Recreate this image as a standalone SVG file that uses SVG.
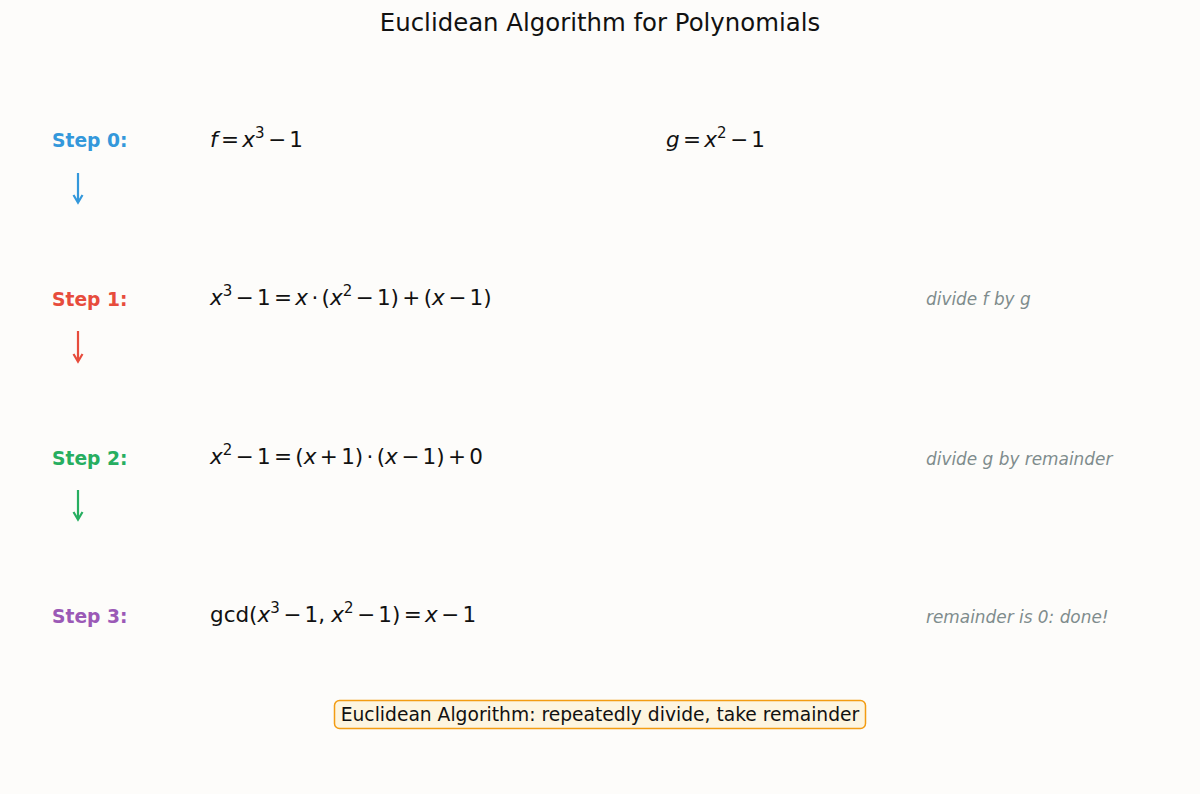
<svg xmlns="http://www.w3.org/2000/svg" width="1200" height="794" viewBox="0 0 1200 794">
<defs>
<style>
.title{font-family:"DejaVu Sans",sans-serif;font-size:24.4px;fill:#111}
.step{font-family:"DejaVu Sans",sans-serif;font-size:18.7px;font-weight:bold}
.math{font-family:"DejaVu Sans",sans-serif;font-size:21.5px;fill:#111;word-spacing:-3.5px;white-space:pre}
.i{font-style:italic}
.sup{font-size:15px}
.note{font-family:"DejaVu Sans",sans-serif;font-size:16.9px;font-style:italic;fill:#7f8c8d}
.foot{font-family:"DejaVu Sans",sans-serif;font-size:18.7px;fill:#111}
.arr{fill:none;stroke-width:2.2;stroke-linecap:butt}
</style>
</defs>
<rect width="1200" height="794" fill="#fdfcfa"/>
<text class="title" x="600" y="31" text-anchor="middle">Euclidean Algorithm for Polynomials</text>

<g id="step0">
<text class="step" x="52" y="147" fill="#3498db">Step 0:</text>
<text class="math" x="210" y="147"><tspan class="i">f</tspan> = <tspan class="i">x</tspan><tspan class="sup" dy="-9">3</tspan><tspan dy="9"> − 1</tspan></text>
<text class="math" x="666" y="147"><tspan class="i">g</tspan> = <tspan class="i">x</tspan><tspan class="sup" dy="-9">2</tspan><tspan dy="9"> − 1</tspan></text>
</g>
<g id="step1">
<text class="step" x="52" y="306" fill="#e74c3c">Step 1:</text>
<text class="math" x="210" y="305"><tspan class="i">x</tspan><tspan class="sup" dy="-9">3</tspan><tspan dy="9"> − 1 = </tspan><tspan class="i">x</tspan> · (<tspan class="i">x</tspan><tspan class="sup" dy="-9">2</tspan><tspan dy="9"> − 1) + (</tspan><tspan class="i">x</tspan> − 1)</text>
<text class="note" x="926" y="305">divide f by g</text>
</g>
<g id="step2">
<text class="step" x="52" y="465" fill="#27ae60">Step 2:</text>
<text class="math" x="210" y="464"><tspan class="i">x</tspan><tspan class="sup" dy="-9">2</tspan><tspan dy="9"> − 1 = (</tspan><tspan class="i">x</tspan> + 1) · (<tspan class="i">x</tspan> − 1) + 0</text>
<text class="note" x="926" y="465">divide g by remainder</text>
</g>
<g id="step3">
<text class="step" x="52" y="623" fill="#9b59b6">Step 3:</text>
<text class="math" x="210" y="622">gcd(<tspan class="i">x</tspan><tspan class="sup" dy="-9">3</tspan><tspan dy="9"> − 1, </tspan><tspan class="i" dx="3">x</tspan><tspan class="sup" dy="-9">2</tspan><tspan dy="9"> − 1) = </tspan><tspan class="i">x</tspan> − 1</text>
<text class="note" x="926" y="623">remainder is 0: done!</text>
</g>
<g id="connectors">
<g stroke="#3498db" class="arr"><path d="M78,173 V202"/><path d="M73.500,195 L78,202.500 L82.500,195"/></g>
<g stroke="#e74c3c" class="arr"><path d="M78,331 V361"/><path d="M73.500,354 L78,361.500 L82.500,354"/></g>
<g stroke="#27ae60" class="arr"><path d="M78,490 V519"/><path d="M73.500,512 L78,519.500 L82.500,512"/></g>
</g>
<g id="footer">
<rect x="334.500" y="700.500" width="531" height="28" rx="5" fill="#fdf5e0" stroke="#f39c12" stroke-width="1.5"/>
<text class="foot" x="600" y="721" text-anchor="middle">Euclidean Algorithm: repeatedly divide, take remainder</text>
</g>
</svg>
